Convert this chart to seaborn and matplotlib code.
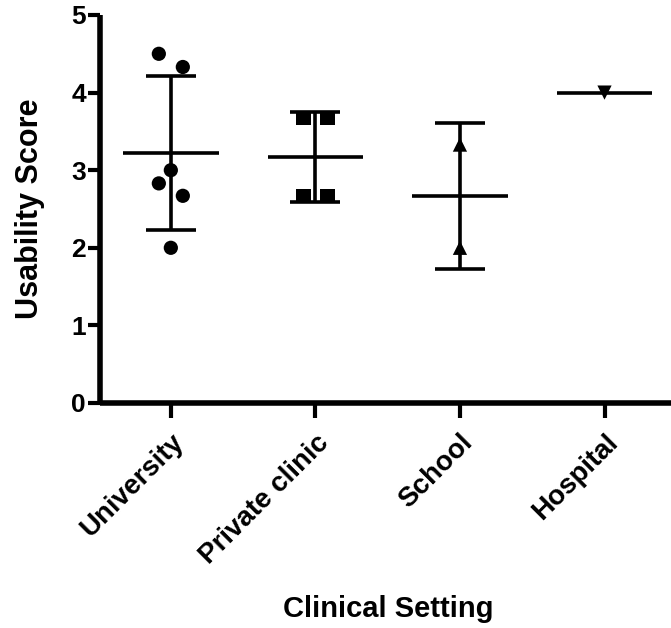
import numpy as np
import pandas as pd
import matplotlib
matplotlib.use("Agg")
import matplotlib.pyplot as plt
import seaborn as sns

# Usability scores per clinical setting
categories = ["University", "Private clinic", "School", "Hospital"]
university = [4.5, 4.33, 3.0, 2.83, 2.67, 2.0]
private_clinic = [3.67, 3.67, 2.67, 2.67]
school = [3.33, 2.0]
hospital = [4.0]
markers = ["o", "s", "^", "v"]
y_ticks = [0, 1, 2, 3, 4, 5]

groups = [university, private_clinic, school, hospital]


def spread_offsets(values, threshold=0.19, step=0.083):
    """Side-by-side placement for points whose markers would overlap.

    Points are walked from the top down; runs of points closer than
    `threshold` form a cluster.  Odd clusters keep one point on the centre
    line, even clusters are split evenly to both sides.
    """
    values = np.asarray(values, dtype=float)
    order = np.argsort(-values, kind="stable")
    offsets = np.zeros(len(values))
    clusters, current = [], [order[0]]
    for prev, idx in zip(order[:-1], order[1:]):
        if values[prev] - values[idx] < threshold:
            current.append(idx)
        else:
            clusters.append(current)
            current = [idx]
    clusters.append(current)
    for cl in clusters:
        k = len(cl)
        if k == 1:
            continue
        seq = [0] if k % 2 else []
        n = 1
        while len(seq) < k:
            seq += [-n, n]
            n += 1
        offsets[cl] = np.array(seq[:k]) * step
    return offsets


rows = []
for i, (cat, vals) in enumerate(zip(categories, groups)):
    off = spread_offsets(vals)
    for v, o in zip(vals, off):
        rows.append({"setting": cat, "score": v, "pos": i + o})
df = pd.DataFrame(rows)

sns.set_theme(style="white")
plt.rcParams["font.family"] = ["Liberation Sans", "DejaVu Sans"]
plt.rcParams["font.weight"] = "bold"
for key in ["text.color", "axes.labelcolor", "xtick.color", "ytick.color"]:
    plt.rcParams[key] = "black"

fig = plt.figure(figsize=(6.71, 6.28), dpi=100)
ax = fig.add_axes([100 / 671, 1 - 403 / 628, 571 / 671, 388 / 628])

sns.scatterplot(data=df, x="pos", y="score", style="setting",
                style_order=categories,
                markers=dict(zip(categories, markers)), color="black",
                s=105, linewidth=0, legend=False, ax=ax, zorder=2)

# mean line and SD error bars
stats = df.groupby("setting", sort=False)["score"].agg(["mean", "std"]).reindex(categories)
xpos = np.arange(len(categories))
ax.hlines(stats["mean"], xpos - 0.33, xpos + 0.33, color="black",
          linewidth=2.6, zorder=3)
has_sd = stats["std"].notna().values
ax.errorbar(xpos[has_sd], stats["mean"].values[has_sd],
            yerr=stats["std"].values[has_sd], fmt="none", ecolor="black",
            elinewidth=2.6, capsize=18, capthick=2.6, zorder=3)

ax.set_xlim(-0.49, 3.46)
ax.set_ylim(0, 5)
ax.set_yticks(y_ticks)
ax.set_yticklabels([str(t) for t in y_ticks], fontsize=19, fontweight="bold")
ax.set_xticks(xpos)
ax.set_xticklabels(categories, fontsize=20, fontweight="bold", rotation=45,
                   ha="right", rotation_mode="anchor")

for side in ["top", "right"]:
    ax.spines[side].set_visible(False)
for side in ["left", "bottom"]:
    ax.spines[side].set_linewidth(4)
    ax.spines[side].set_color("black")
    ax.spines[side].set_capstyle("butt")

ax.tick_params(axis="y", direction="out", length=9, width=3, pad=1,
               colors="black", left=True)
ax.tick_params(axis="x", direction="out", length=11, width=3, pad=8,
               colors="black", bottom=True)

ax.set_ylabel("Usability Score", fontsize=22, fontweight="bold", labelpad=19)
ax.set_xlabel("Clinical Setting", fontsize=21, fontweight="bold")
ax.xaxis.set_label_coords(0.504, -0.495)
ax.grid(False)

fig.savefig("out.png", dpi=100)
